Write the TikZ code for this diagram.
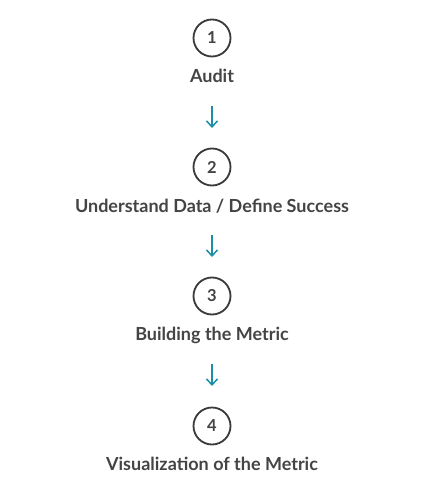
\documentclass[tikz,border=0pt]{standalone}
\usepackage{fontspec}
\setmainfont{Lato}
\usetikzlibrary{arrows.meta}
\definecolor{txt}{HTML}{444444}
\definecolor{ring}{HTML}{3A3A3A}
\definecolor{teal}{HTML}{1C8FA8}
\begin{document}
\begin{tikzpicture}[x=1pt,y=-1pt,
  stepcircle/.style={circle,draw=ring,line width=1.8pt,minimum size=37pt,inner sep=0pt,text=txt,font=\fontsize{16.5}{19}\selectfont\bfseries},
  steplabel/.style={text=txt,font=\fontsize{18}{21}\selectfont\bfseries,inner sep=0pt},
  flow/.style={draw=teal,line width=1.5pt,-{Straight Barb[length=6pt,width=11pt,line width=1.5pt]}}]
\useasboundingbox[fill=white] (0,0) rectangle (424,492);
\node[stepcircle] (c1) at (212,38) {1};
\node[steplabel] (l1) at (212,76) {Audit};
\node[stepcircle] (c2) at (212,167) {2};
\node[steplabel] (l2) at (212,206) {Understand Data / Define Success};
\node[stepcircle] (c3) at (212,296) {3};
\node[steplabel] (l3) at (212,335) {Building the Metric};
\node[stepcircle] (c4) at (212,426) {4};
\node[steplabel] (l4) at (212,464) {Visualization of the Metric};
\coordinate (a1s) at (212,106); \coordinate (a1e) at (212,128);
\coordinate (a2s) at (212,235); \coordinate (a2e) at (212,257);
\coordinate (a3s) at (212,364); \coordinate (a3e) at (212,386);
\draw[flow] (a1s) -- (a1e);
\draw[flow] (a2s) -- (a2e);
\draw[flow] (a3s) -- (a3e);
\end{tikzpicture}
\end{document}
